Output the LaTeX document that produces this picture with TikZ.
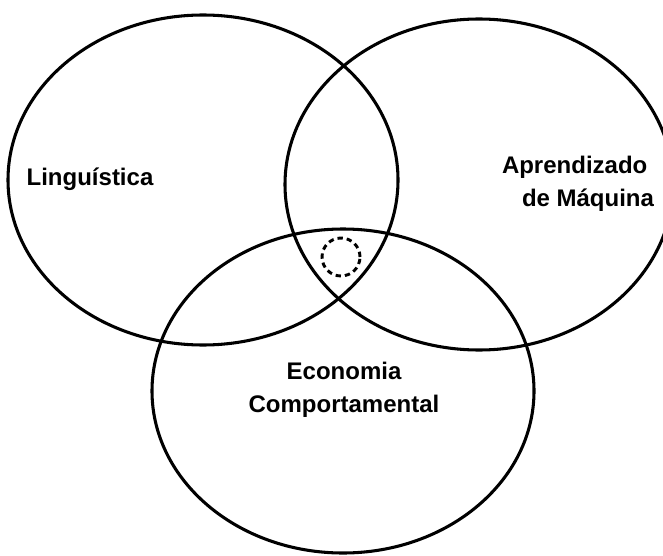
\documentclass[tikz,border=0pt]{standalone}
\usepackage{fontspec}
\setmainfont{Liberation Sans}
\usetikzlibrary{shapes.geometric}
\begin{document}
\begin{tikzpicture}[x=0.75pt,y=-0.75pt,
  setbox/.style={draw=black, ellipse, line width=2.3pt, inner sep=0pt, outer sep=0pt},
  hole/.style={draw=black, circle, line width=2.2pt, dash pattern=on 4pt off 3pt, inner sep=0pt, minimum size=28.5pt},
  lbl/.style={font=\fontsize{18}{25}\selectfont\bfseries, inner sep=0pt, outer sep=0pt}]
\useasboundingbox (0,0) rectangle (663,556);
\node[setbox, minimum width=292.5pt, minimum height=247.5pt] (ling) at (203,180) {};
\node[setbox, minimum width=291pt, minimum height=248.25pt] (ml) at (479,184.5) {};
\node[setbox, minimum width=286.5pt, minimum height=243pt] (econ) at (343,391) {};
\node[hole] (core) at (341,257) {};
\node[lbl, anchor=base] (tling) at (90,185) {Linguística};
\node[lbl, align=left] (tml) at (578,183.5) {Aprendizado\\\hspace*{15pt}de Máquina};
\node[lbl, align=center] (tecon) at (344,390) {Economia\\Comportamental};
\end{tikzpicture}
\end{document}
